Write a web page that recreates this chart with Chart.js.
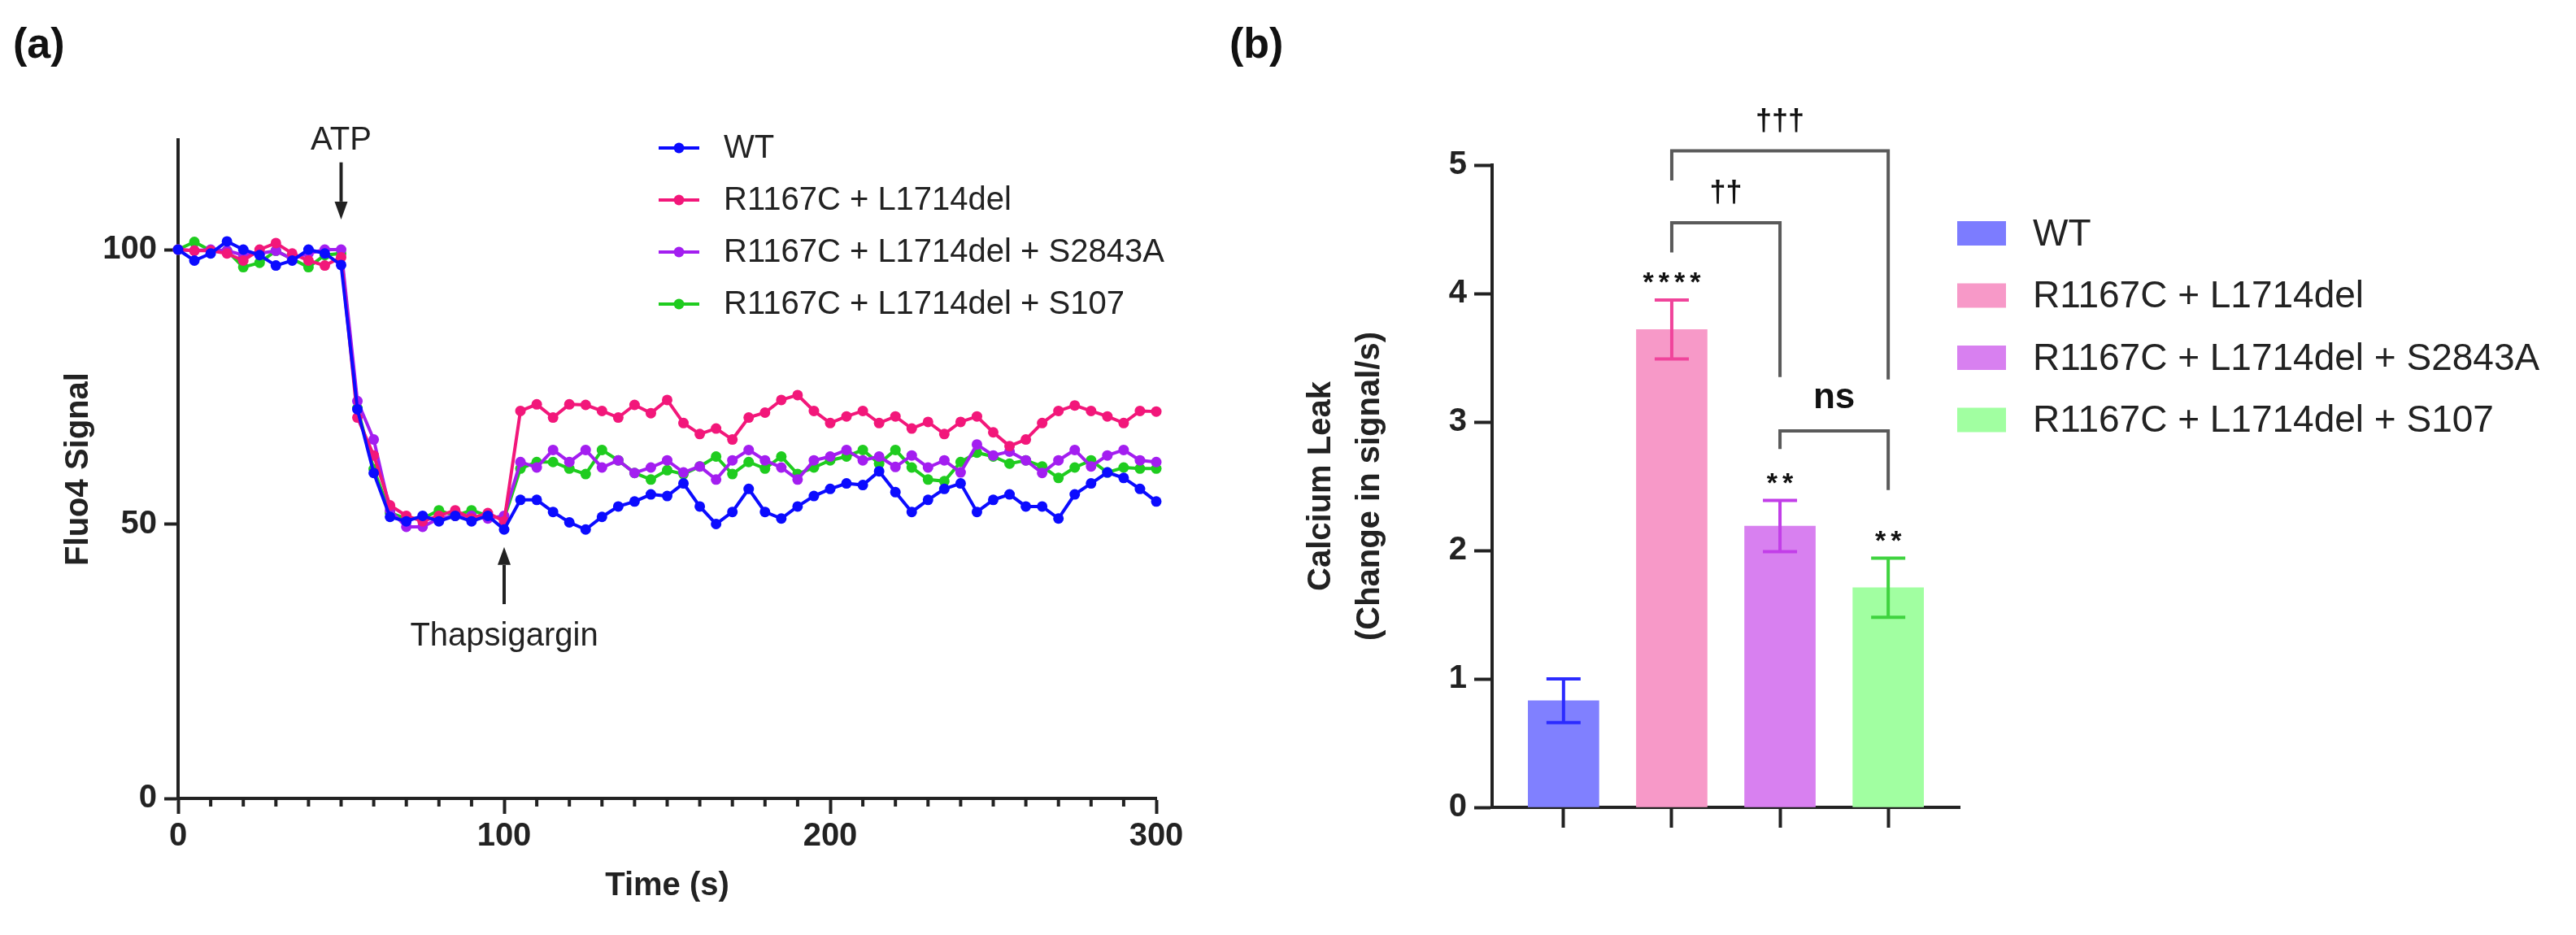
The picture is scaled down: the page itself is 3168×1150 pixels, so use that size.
<!DOCTYPE html>
<html>
<head>
<meta charset="utf-8">
<script src="https://cdn.jsdelivr.net/npm/chart.js@4.4.1/dist/chart.umd.min.js"></script>
<style>
  html, body { margin: 0; padding: 0; background: #fff; }
  body { width: 3168px; height: 1150px; position: relative; overflow: hidden; font-family: "Liberation Sans", Arial, sans-serif; }
  .panel-tag { position: absolute; font-weight: bold; font-size: 52px; line-height: 60px; color: #111; }
  #wrapA { position: absolute; left: 0; top: 0; width: 1560px; height: 1150px; }
  #wrapB { position: absolute; left: 1480px; top: 0; width: 1688px; height: 1150px; }
</style>
</head>
<body>
<div class="panel-tag" style="left:16px; top:23px;">(a)</div>
<div class="panel-tag" style="left:1512px; top:23px;">(b)</div>
<div id="wrapA"><canvas id="traceChart" width="1560" height="1150"></canvas></div>
<div id="wrapB"><canvas id="leakChart" width="1688" height="1150"></canvas></div>

<script>
// ---- panel (a): Fluo4 traces ----
const timeS = [0, 5, 10, 15, 20, 25, 30, 35, 40, 45, 50, 55, 60, 65, 70, 75, 80, 85, 90, 95, 100,
  105, 110, 115, 120, 125, 130, 135, 140, 145, 150, 155, 160, 165, 170, 175, 180, 185, 190, 195, 200,
  205, 210, 215, 220, 225, 230, 235, 240, 245, 250, 255, 260, 265, 270, 275, 280, 285, 290, 295, 300];

const wtSignal = [100, 98.0, 99.3, 101.5, 100, 99.0, 97.1, 98.0, 100, 99.3, 97.2,
  70.9, 59.3, 51.3, 50.5, 51.5, 50.5, 51.5, 50.5, 51.5, 49.0,
  54.4, 54.4, 52.2, 50.3, 49.0, 51.3, 53.2, 54.1, 55.4, 55.1,
  57.4, 53.2, 50.0, 52.2, 56.4, 52.2, 51.0, 53.2, 55.1, 56.4,
  57.4, 57.1, 59.6, 55.8, 52.2, 54.4, 56.4, 57.4, 52.2, 54.4,
  55.4, 53.2, 53.2, 51.0, 55.4, 57.4, 59.4, 58.4, 56.4, 54.1];

const dblSignal = [100, 99.8, 99.8, 99.3, 98.0, 100, 101.2, 99.3, 98.0, 97.1, 98.6,
  69.4, 62.5, 53.4, 51.5, 50.5, 51.5, 52.5, 51.0, 52.0, 50.5,
  70.6, 71.8, 69.4, 71.8, 71.7, 70.6, 69.4, 71.7, 70.2, 72.6,
  68.4, 66.4, 67.4, 65.4, 69.4, 70.3, 72.6, 73.5, 70.6, 68.4,
  69.6, 70.6, 68.4, 69.6, 67.4, 68.6, 66.4, 68.6, 69.6, 66.7,
  64.2, 65.4, 68.4, 70.6, 71.6, 70.6, 69.6, 68.4, 70.6, 70.5];

const s2843aSignal = [100, 99.8, 100, 99.8, 99.0, 99.3, 99.8, 98.3, 99.3, 100, 100,
  72.4, 65.4, 52.5, 49.5, 49.5, 51.0, 51.5, 51.5, 51.0, 51.5,
  61.3, 60.3, 63.5, 61.3, 63.5, 60.3, 61.6, 59.3, 60.3, 61.6,
  59.4, 60.5, 58.1, 61.6, 63.5, 61.6, 60.3, 58.1, 61.6, 62.3,
  63.5, 61.6, 62.3, 60.4, 62.5, 60.3, 61.6, 59.4, 64.5, 62.5,
  63.2, 61.6, 59.3, 61.6, 63.5, 60.5, 62.5, 63.5, 61.6, 61.3];

const s107Signal = [100, 101.4, 99.8, 99.8, 96.8, 97.6, 99.8, 98.3, 96.8, 99.0, 99.3,
  71.1, 60.0, 52.0, 51.0, 51.0, 52.5, 51.5, 52.5, 51.5, 51.0,
  60.1, 61.3, 61.3, 60.1, 59.1, 63.5, 61.6, 59.3, 58.1, 59.8,
  59.1, 60.5, 62.3, 59.1, 61.3, 60.1, 62.3, 59.1, 60.3, 61.6,
  62.3, 63.5, 61.0, 63.5, 60.3, 58.1, 57.8, 61.3, 63.0, 62.3,
  61.0, 61.6, 60.5, 58.4, 60.3, 61.6, 59.4, 60.3, 60.1, 60.1];

const groupNames = ['WT', 'R1167C + L1714del', 'R1167C + L1714del + S2843A', 'R1167C + L1714del + S107'];
const traceColors = ['#0b0bff', '#f2177a', '#a31ef0', '#1fcc1f'];
const traceSeries = [wtSignal, dblSignal, s2843aSignal, s107Signal];

// treatment markers (data units): label, time, text y, arrow start y, arrow tip y
const markerLabels = ['ATP', 'Thapsigargin'];
const markerTimes = [50, 100];
const markerTextY = [119.9, 29.5];
const markerArrowFrom = [115.9, 35.4];
const markerArrowTo = [105.5, 45.8];

// ---- panel (b): calcium leak bars ----
const leakMean = [0.83, 3.72, 2.19, 1.71];
const leakSem = [0.17, 0.23, 0.20, 0.23];
const starLabels = ['', '****', '**', '**'];
const barFill = ['#8080ff', '#f799c8', '#d880f0', '#a1ffa1'];
const barErr = ['#2b2bff', '#f0449b', '#c23ee8', '#3fd33f'];

const bracketFrom = [1, 1, 2];
const bracketTo = [3, 2, 3];
const bracketY = [5.11, 4.55, 2.93];
const bracketLeftEnd = [4.88, 4.32, 2.79];
const bracketRightEnd = [3.33, 3.35, 2.47];
const bracketLabels = ['\u2020\u2020\u2020', '\u2020\u2020', 'ns'];

Chart.defaults.font.family = '"Liberation Sans", Arial, sans-serif';
Chart.defaults.color = '#222';

const axisInk = '#222';
const tickFont = { size: 40, weight: 'bold' };

function drawArrow(ctx, x, yFrom, yTo) {
  const dir = yTo > yFrom ? 1 : -1;
  const head = 22;
  ctx.beginPath();
  ctx.moveTo(x, yFrom);
  ctx.lineTo(x, yTo - dir * head);
  ctx.stroke();
  ctx.beginPath();
  ctx.moveTo(x, yTo);
  ctx.lineTo(x - 8, yTo - dir * head);
  ctx.lineTo(x + 8, yTo - dir * head);
  ctx.closePath();
  ctx.fill();
}

const traceDecor = {
  id: 'traceDecor',
  afterDraw(chart) {
    const { ctx, chartArea } = chart;
    const xs = chart.scales.x, ys = chart.scales.y;
    ctx.save();
    // minor ticks on the time axis
    ctx.strokeStyle = axisInk;
    ctx.lineWidth = 4;
    xs.ticks.forEach(t => {
      if (t.value % 100 === 0) return;
      const px = xs.getPixelForValue(t.value);
      ctx.beginPath();
      ctx.moveTo(px, chartArea.bottom);
      ctx.lineTo(px, chartArea.bottom + 10);
      ctx.stroke();
    });
    // ATP / Thapsigargin arrows
    ctx.fillStyle = '#222';
    ctx.font = '40px "Liberation Sans", Arial, sans-serif';
    ctx.textAlign = 'center';
    ctx.textBaseline = 'middle';
    markerLabels.forEach((lab, i) => {
      const px = xs.getPixelForValue(markerTimes[i]);
      ctx.fillText(lab, px, ys.getPixelForValue(markerTextY[i]));
      drawArrow(ctx, px, ys.getPixelForValue(markerArrowFrom[i]), ys.getPixelForValue(markerArrowTo[i]));
    });
    // legend
    ctx.textAlign = 'left';
    chart.data.datasets.forEach((ds, i) => {
      const y = chartArea.top + 10 + i * 64;
      const x0 = chartArea.left + 591;
      ctx.strokeStyle = ds.borderColor;
      ctx.fillStyle = ds.borderColor;
      ctx.lineWidth = 4;
      ctx.beginPath();
      ctx.moveTo(x0, y);
      ctx.lineTo(x0 + 50, y);
      ctx.stroke();
      ctx.beginPath();
      ctx.arc(x0 + 25, y, 6.5, 0, Math.PI * 2);
      ctx.fill();
      ctx.fillStyle = '#222';
      ctx.fillText(ds.label, x0 + 80, y + 1);
    });
    ctx.restore();
  }
};

new Chart(document.getElementById('traceChart'), {
  type: 'line',
  data: {
    datasets: traceSeries.map((vals, i) => ({
      label: groupNames[i],
      data: timeS.map((t, k) => ({ x: t, y: vals[k] })),
      borderColor: traceColors[i],
      backgroundColor: traceColors[i],
      borderWidth: 4,
      pointRadius: 6.5,
      pointBorderWidth: 0,
      pointBackgroundColor: traceColors[i],
      tension: 0,
      clip: false
    }))
  },
  options: {
    responsive: false,
    animation: false,
    layout: { padding: { left: 0, right: 138, top: 172, bottom: 0 } },
    plugins: { legend: { display: false }, tooltip: { enabled: false } },
    scales: {
      x: {
        type: 'linear',
        min: 0,
        max: 300,
        afterFit(s) { s.height = 168; },
        border: { display: true, color: axisInk, width: 4 },
        grid: {
          drawOnChartArea: false, drawTicks: true, tickLength: 19, tickWidth: 4,
          tickColor: c => (c.tick && c.tick.value % 100 === 0) ? axisInk : 'rgba(0,0,0,0)'
        },
        ticks: {
          stepSize: 10, autoSkip: false, maxRotation: 0, padding: 4,
          font: tickFont, color: axisInk,
          callback: v => (v % 100 === 0 ? v : '')
        },
        title: {
          display: true, text: 'Time (s)', color: axisInk,
          font: { size: 40, weight: 'bold' }, padding: { top: 0, bottom: 36 }
        }
      },
      y: {
        min: 0,
        max: 120,
        afterFit(s) { s.width = 219; },
        afterBuildTicks(s) { s.ticks = s.ticks.filter(t => t.value % 50 === 0); },
        border: { display: true, color: axisInk, width: 4 },
        grid: { drawOnChartArea: false, drawTicks: true, tickLength: 17, tickWidth: 4, tickColor: axisInk },
        ticks: { stepSize: 50, padding: 9, font: tickFont, color: axisInk },
        title: {
          display: true, text: 'Fluo4 Signal', color: axisInk,
          font: { size: 40, weight: 'bold' }, padding: { top: 73, bottom: 0 }
        }
      }
    }
  },
  plugins: [traceDecor]
});

// ---- panel (b) ----
const leakDecor = {
  id: 'leakDecor',
  afterDatasetsDraw(chart) {
    const { ctx } = chart;
    const xs = chart.scales.x, ys = chart.scales.y;
    ctx.save();
    ctx.lineWidth = 4;
    leakMean.forEach((m, i) => {
      const cx = xs.getPixelForValue(i);
      const top = ys.getPixelForValue(m + leakSem[i]);
      const bot = ys.getPixelForValue(m - leakSem[i]);
      ctx.strokeStyle = barErr[i];
      ctx.beginPath();
      ctx.moveTo(cx, top); ctx.lineTo(cx, bot);
      ctx.moveTo(cx - 21, top); ctx.lineTo(cx + 21, top);
      ctx.moveTo(cx - 21, bot); ctx.lineTo(cx + 21, bot);
      ctx.stroke();
      if (starLabels[i]) {
        ctx.fillStyle = '#111';
        ctx.font = 'bold 34px "Liberation Sans", Arial, sans-serif';
        ctx.letterSpacing = '6px';
        ctx.textAlign = 'center';
        ctx.textBaseline = 'middle';
        ctx.fillText(starLabels[i], cx + 3, top - 20);
        ctx.letterSpacing = '0px';
      }
    });
    ctx.restore();
  },
  afterDraw(chart) {
    const { ctx, chartArea } = chart;
    const xs = chart.scales.x, ys = chart.scales.y;
    ctx.save();
    // comparison brackets
    ctx.strokeStyle = '#5a5a5a';
    ctx.lineWidth = 4;
    ctx.lineJoin = 'miter';
    bracketLabels.forEach((lab, i) => {
      const x1 = xs.getPixelForValue(bracketFrom[i]);
      const x2 = xs.getPixelForValue(bracketTo[i]);
      const yTop = ys.getPixelForValue(bracketY[i]);
      ctx.beginPath();
      ctx.moveTo(x1, ys.getPixelForValue(bracketLeftEnd[i]));
      ctx.lineTo(x1, yTop);
      ctx.lineTo(x2, yTop);
      ctx.lineTo(x2, ys.getPixelForValue(bracketRightEnd[i]));
      ctx.stroke();
      ctx.fillStyle = '#111';
      ctx.textAlign = 'center';
      ctx.textBaseline = 'middle';
      if (lab === 'ns') {
        ctx.font = 'bold 44px "Liberation Sans", Arial, sans-serif';
        ctx.fillText(lab, (x1 + x2) / 2, yTop - 40);
      } else {
        ctx.font = 'bold 36px "Liberation Sans", Arial, sans-serif';
        ctx.fillText(lab, (x1 + x2) / 2, yTop - 36);
      }
    });
    // legend
    ctx.font = '46px "Liberation Sans", Arial, sans-serif';
    ctx.textAlign = 'left';
    ctx.textBaseline = 'middle';
    groupNames.forEach((name, i) => {
      const y = chartArea.top + 84 + i * 76.5;
      const x0 = chartArea.right - 3;
      ctx.fillStyle = barFill[i] === '#8080ff' ? '#7c7cff' : barFill[i];
      ctx.fillRect(x0, y - 15, 60, 30);
      ctx.fillStyle = '#222';
      ctx.fillText(name, x0 + 93, y + 2);
    });
    ctx.restore();
  }
};

new Chart(document.getElementById('leakChart'), {
  type: 'bar',
  data: {
    datasets: [{
      label: 'Calcium Leak',
      data: leakMean.map((m, i) => ({ x: i, y: m })),
      backgroundColor: barFill,
      borderWidth: 0,
      barThickness: 87
    }]
  },
  options: {
    responsive: false,
    animation: false,
    layout: { padding: { left: 100, right: 758, top: 203, bottom: 0 } },
    plugins: { legend: { display: false }, tooltip: { enabled: false } },
    scales: {
      x: {
        type: 'linear',
        min: -0.66,
        max: 3.66,
        offset: false,
        afterFit(s) { s.height = 157; },
        afterBuildTicks(s) { s.ticks = groupNames.map((n, i) => ({ value: i })); },
        border: { display: true, color: axisInk, width: 4 },
        grid: { offset: false, drawOnChartArea: false, drawTicks: true, tickLength: 25, tickWidth: 4, tickColor: axisInk },
        ticks: { display: false }
      },
      y: {
        min: 0,
        max: 5,
        afterFit(s) { s.width = 255; },
        border: { display: true, color: axisInk, width: 4 },
        grid: { drawOnChartArea: false, drawTicks: true, tickLength: 22, tickWidth: 4, tickColor: axisInk },
        ticks: { stepSize: 1, padding: 9, font: tickFont, color: axisInk },
        title: {
          display: true, text: ['Calcium Leak', '(Change in signal/s)'], color: axisInk,
          font: { size: 40, weight: 'bold', lineHeight: 1.5 }, padding: { top: 15, bottom: 0 }
        }
      }
    }
  },
  plugins: [leakDecor]
});
</script>
</body>
</html>
